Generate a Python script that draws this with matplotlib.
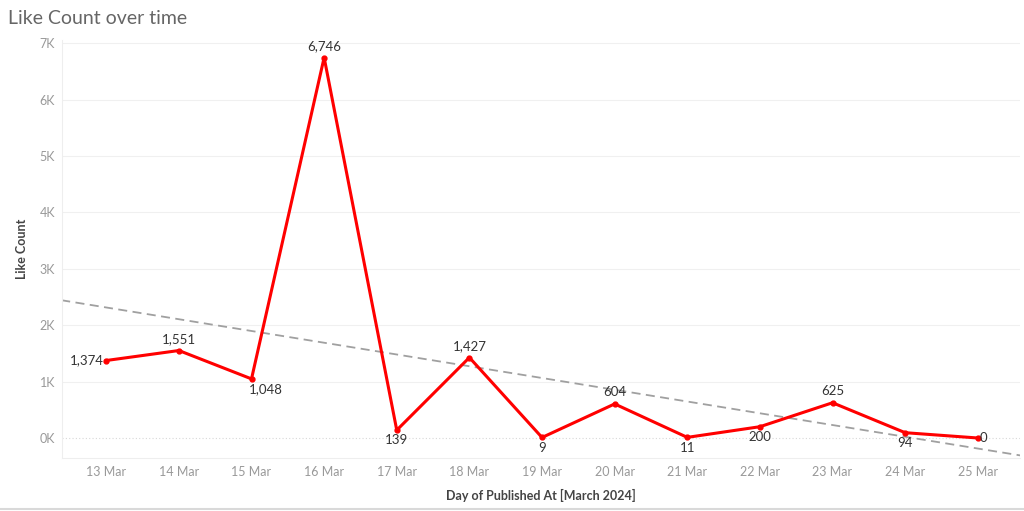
import matplotlib.pyplot as plt
import numpy as np
from matplotlib.lines import Line2D

plt.rcParams['font.family'] = ['Lato', 'DejaVu Sans']

# data
days = ["13 Mar", "14 Mar", "15 Mar", "16 Mar", "17 Mar", "18 Mar", "19 Mar",
        "20 Mar", "21 Mar", "22 Mar", "23 Mar", "24 Mar", "25 Mar"]
likes = [1374, 1551, 1048, 6746, 139, 1427, 9, 604, 11, 200, 625, 94, 0]
# where each value label sits relative to its point
label_pos = ["left", "above", "below", "above", "below", "above", "below",
             "above", "below", "below", "above", "below", "right"]

x = np.arange(len(days))

fig = plt.figure(figsize=(10.24, 5.11), dpi=100)
ax = fig.add_axes([0.0605, 0.1037, 0.9355, 0.818])

# trend line (least squares)
slope, icpt = np.polyfit(x, likes, 1)
xl = np.array([-0.62, 12.6])
ax.plot(xl, slope * xl + icpt, color="#a0a0a0", lw=1.3, ls=(0, (5, 3)), zorder=2)

ax.plot(x, likes, color="#ff0000", lw=2.2, marker="o", markersize=3.5, zorder=3)

for i, (xi, v, p) in enumerate(zip(x, likes, label_pos)):
    txt = f"{v:,}"
    kw = dict(fontsize=9.5, color="#333333")
    dx = 10 if i == 2 else 0
    if p == "above":
        ax.annotate(txt, (xi, v), xytext=(0, 4), textcoords="offset points", ha="center", va="bottom", **kw)
    elif p == "below":
        ax.annotate(txt, (xi, v), xytext=(dx, -3), textcoords="offset points", ha="center", va="top", **kw)
    elif p == "left":
        ax.annotate(txt, (xi, v), xytext=(-2, 0), textcoords="offset points", ha="right", va="center", **kw)
    else:
        ax.annotate(txt, (xi, v), xytext=(1, 0), textcoords="offset points", ha="left", va="center", **kw)

ax.set_xlim(-0.61, 12.58)
ax.set_ylim(-355, 7057)
ax.set_xticks(x)
ax.set_xticklabels(days)
yt = np.arange(0, 8000, 1000)
ax.set_yticks(yt)
ax.set_yticklabels([f"{int(t/1000)}K" for t in yt])
ax.tick_params(axis="both", length=0, labelsize=9, labelcolor="#999999")
ax.tick_params(axis="x", pad=6)
ax.tick_params(axis="y", pad=5)

for t in yt[1:]:
    ax.axhline(t, color="#f0f0f0", lw=0.8, zorder=0)
ax.axhline(0, color="#d8d8d8", lw=0.8, ls=(0, (1, 2)), zorder=0)

for s in ["top", "right"]:
    ax.spines[s].set_visible(False)
for s in ["left", "bottom"]:
    ax.spines[s].set_color("#eeeeee")
    ax.spines[s].set_linewidth(0.8)

ax.set_ylabel("Like Count", fontsize=9, color="#444444", fontweight="bold", labelpad=8)
ax.set_xlabel("Day of Published At [March 2024]", fontsize=9, color="#444444", fontweight="bold", labelpad=8)

fig.text(0.008, 0.963, "Like Count over time", fontsize=14, color="#666666", va="center")
fig.add_artist(Line2D([0, 1], [0.004, 0.004], color="#d9d9d9", lw=1.5, transform=fig.transFigure))

fig.savefig("out.png", dpi=100, facecolor="white")
